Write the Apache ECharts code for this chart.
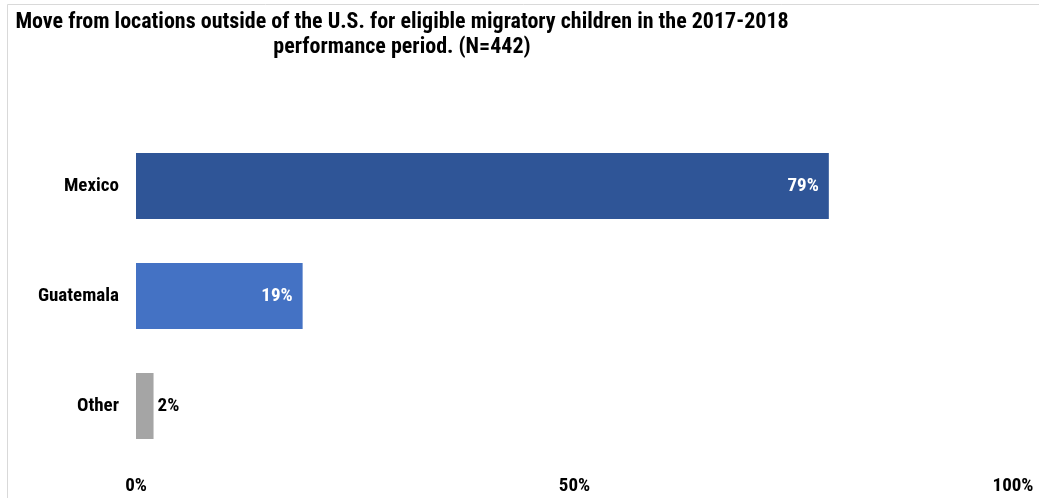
<!DOCTYPE html>
<html>
<head>
<meta charset="utf-8">
<title>Move from locations outside of the U.S.</title>
<script src="https://cdn.jsdelivr.net/npm/echarts@6/dist/echarts.min.js"></script>
<style>
  html, body { margin: 0; padding: 0; background: #ffffff; }
  #chart { width: 1039px; height: 498px; }
</style>
</head>
<body>
<div id="chart"></div>
<script>
// Origin of moves from outside the U.S., 2017-2018 performance period
const titleLines = [
  'Move from locations outside of the U.S. for eligible migratory children in the 2017-2018',
  'performance period. (N=442)'
];
const categories = ['Mexico', 'Guatemala', 'Other'];
const shares = [79, 19, 2];          // percent of N
const barColors = ['#2F5597', '#4472C4', '#A5A5A5'];
const xTicks = [0, 50, 100];         // percent tick values

const FONT = '"Roboto Condensed", "Open Sans Condensed", sans-serif';

const chart = echarts.init(document.getElementById('chart'), null, { renderer: 'canvas' });

const barData = shares.map((v, i) => ({
  value: v,
  itemStyle: { color: barColors[i] },
  label: i === shares.length - 1
    ? { position: 'right', distance: 4, color: '#000000' }
    : { position: 'insideRight', distance: 10, color: '#ffffff' }
}));

chart.setOption({
  animation: false,
  backgroundColor: '#ffffff',
  title: {
    text: titleLines.join('\n'),
    left: 397,
    top: 5,
    textAlign: 'center',
    textStyle: {
      fontFamily: FONT,
      fontWeight: 'bold',
      fontSize: 22,
      lineHeight: 25,
      color: '#000000'
    }
  },
  graphic: [{
    type: 'rect',
    silent: true,
    shape: { x: 7.5, y: 4.5, width: 1100, height: 600 },
    style: { fill: 'none', stroke: '#D9D9D9', lineWidth: 1 }
  }],
  grid: { left: 136, right: 26, top: 131, bottom: 37, containLabel: false },
  xAxis: {
    type: 'value',
    min: xTicks[0],
    max: xTicks[xTicks.length - 1],
    interval: xTicks[1] - xTicks[0],
    axisLine: { show: false },
    axisTick: { show: false },
    splitLine: { show: false },
    axisLabel: {
      margin: 16,
      fontFamily: FONT,
      fontWeight: 'bold',
      fontSize: 19,
      color: '#000000',
      formatter: v => v + '%'
    }
  },
  yAxis: {
    type: 'category',
    data: categories,
    inverse: true,
    axisLine: { show: false },
    axisTick: { show: false },
    axisLabel: {
      margin: 17,
      fontFamily: FONT,
      fontWeight: 'bold',
      fontSize: 19,
      color: '#000000'
    }
  },
  series: [{
    type: 'bar',
    data: barData,
    barWidth: '60%',
    label: {
      show: true,
      fontFamily: FONT,
      fontWeight: 'bold',
      fontSize: 19,
      formatter: p => p.value + '%'
    }
  }]
});
</script>
</body>
</html>
